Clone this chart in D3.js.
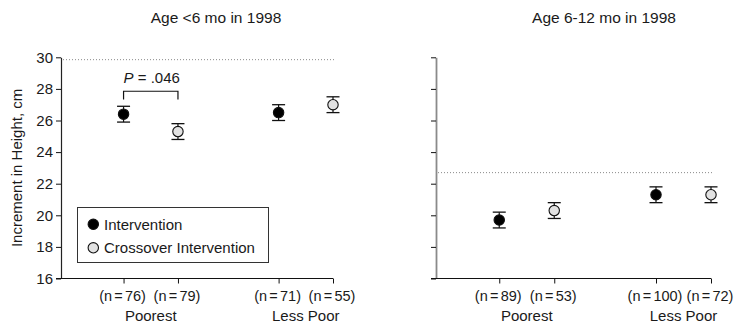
<!DOCTYPE html>
<html>
<head>
<meta charset="utf-8">
<script src="https://cdn.jsdelivr.net/npm/d3@7"></script>
<style>
  body { margin: 0; background: #fff; }
  text { font-family: "Liberation Sans", Arial, Helvetica, sans-serif; fill: #1a1a1a; }
</style>
</head>
<body>
<div id="chart"></div>
<script>
// data
var panelTitles = ["Age <6 mo in 1998", "Age 6-12 mo in 1998"];
var groups = ["Poorest", "Less Poor"];
var seriesNames = ["Intervention", "Crossover Intervention"];
var seriesFill = ["#000000", "#e2e2e2"];

// order: Poorest/Intervention, Poorest/Crossover, Less Poor/Intervention, Less Poor/Crossover
var meanYoung = [26.4, 25.3, 26.5, 27.0];
var errYoung = [0.5, 0.5, 0.5, 0.5];
var nYoung = [76, 79, 71, 55];

var meanOld = [19.7, 20.3, 21.3, 21.3];
var errOld = [0.5, 0.5, 0.5, 0.5];
var nOld = [89, 53, 100, 72];

var refLines = [29.85, 22.7];
var yTicks = [16, 18, 20, 22, 24, 26, 28, 30];
var pLabel = ".046";

var svgWidth = 734;
var svgHeight = 328;

var svg = d3.select("#chart")
  .append("svg")
  .attr("width", svgWidth)
  .attr("height", svgHeight);

var yScale = d3.scaleLinear()
  .domain([16, 30])
  .range([278.5, 57.3]);

// slot positions along the x axis (layout only)
var slots = [1.15, 2.15, 4, 5];

var panels = [
  { title: panelTitles[0], x0: 61, x1: 333, titleX: 216, mean: meanYoung, err: errYoung, n: nYoung, ref: refLines[0], axisColor: "#222", labels: true },
  { title: panelTitles[1], x0: 436, x1: 711, titleX: 604, mean: meanOld, err: errOld, n: nOld, ref: refLines[1], axisColor: "#8a8a8a", labels: false }
];

panels.forEach(function(p, pi) {
  var xScale = d3.scaleLinear().domain([0, 5]).range([p.x0, p.x1]);
  var g = svg.append("g");

  // title
  g.append("text")
    .attr("x", p.titleX)
    .attr("y", 23)
    .attr("text-anchor", "middle")
    .style("font-size", "15.5px")
    .text(p.title);

  // reference dotted line
  g.append("line")
    .attr("x1", p.x0 + 2)
    .attr("x2", p.x1 + 1)
    .attr("y1", yScale(p.ref))
    .attr("y2", yScale(p.ref))
    .attr("stroke", "#8a8a8a")
    .attr("stroke-width", 1)
    .attr("stroke-dasharray", "1,2");

  // y axis
  var leftAxis = d3.axisLeft(yScale)
    .tickValues(yTicks)
    .tickSize(5)
    .tickSizeOuter(0)
    .tickPadding(3);
  if (!p.labels) leftAxis.tickFormat("");

  var yg = g.append("g")
    .attr("transform", "translate(" + p.x0 + ",0)")
    .call(leftAxis);
  yg.select(".domain").attr("stroke", p.axisColor).attr("stroke-width", pi === 0 ? 1.2 : 1.8);
  yg.selectAll(".tick line").attr("stroke", "#111");
  yg.selectAll(".tick text").style("font-size", "15px").attr("fill", "#1a1a1a");

  // x axis with n labels
  var nLabels = p.n.map(function(v) { return "(n = " + v + ")"; });
  var bottomAxis = d3.axisBottom(xScale)
    .tickValues(slots)
    .tickSize(5)
    .tickSizeOuter(0)
    .tickPadding(7)
    .tickFormat(function(d, i) { return nLabels[i]; });

  var xg = g.append("g")
    .attr("transform", "translate(0," + yScale(16) + ")")
    .call(bottomAxis);
  xg.select(".domain").attr("stroke", "#111").attr("stroke-width", 1.2)
    .attr("d", "M" + (p.x0 - 5) + ",0H" + p.x1);
  xg.selectAll(".tick line").attr("stroke", "#111");
  xg.selectAll(".tick text")
    .style("font-size", "14.5px")
    .style("word-spacing", "-1.8px")
    .attr("dx", -1.5)
    .attr("fill", "#1a1a1a");

  // group labels
  groups.forEach(function(name, gi) {
    g.append("text")
      .attr("x", (xScale(slots[gi * 2]) + xScale(slots[gi * 2 + 1])) / 2)
      .attr("y", 321)
      .attr("text-anchor", "middle")
      .style("font-size", "15px")
      .text(name);
  });

  // error bars and points
  var pts = p.mean.map(function(m, i) {
    return { x: slots[i], mean: m, err: p.err[i], series: i % 2 };
  });

  var eg = g.selectAll(".err")
    .data(pts)
    .enter()
    .append("g")
    .attr("class", "err");

  eg.append("line")
    .attr("x1", d => xScale(d.x))
    .attr("x2", d => xScale(d.x))
    .attr("y1", d => yScale(d.mean + d.err))
    .attr("y2", d => yScale(d.mean - d.err))
    .attr("stroke", "#111")
    .attr("stroke-width", 1.2);

  [1, -1].forEach(function(sign) {
    eg.append("line")
      .attr("x1", d => xScale(d.x) - 6.5)
      .attr("x2", d => xScale(d.x) + 6.5)
      .attr("y1", d => yScale(d.mean + sign * d.err))
      .attr("y2", d => yScale(d.mean + sign * d.err))
      .attr("stroke", "#111")
      .attr("stroke-width", 1.3);
  });

  eg.append("circle")
    .attr("cx", d => xScale(d.x))
    .attr("cy", d => yScale(d.mean))
    .attr("r", 5.2)
    .attr("fill", d => seriesFill[d.series])
    .attr("stroke", "#111")
    .attr("stroke-width", 1.1);

  if (pi === 0) {
    // significance bracket
    var bx0 = xScale(slots[0]);
    var bx1 = xScale(slots[1]);
    var byTop = yScale(27.85);
    var byBot = yScale(27.33);
    g.append("path")
      .attr("d", "M" + bx0 + "," + byBot + "V" + byTop + "H" + bx1 + "V" + byBot)
      .attr("fill", "none")
      .attr("stroke", "#111")
      .attr("stroke-width", 1.2);

    var pt = g.append("text")
      .attr("x", (bx0 + bx1) / 2 + 1)
      .attr("y", 82.5)
      .attr("text-anchor", "middle")
      .style("font-size", "15px");
    pt.append("tspan").style("font-style", "italic").text("P");
    pt.append("tspan").text(" = " + pLabel);

    // legend
    var lg = g.append("g");
    lg.append("rect")
      .attr("x", 77.5)
      .attr("y", 207.5)
      .attr("width", 191)
      .attr("height", 55)
      .attr("fill", "#fff")
      .attr("stroke", "#333")
      .attr("stroke-width", 1);

    seriesNames.forEach(function(name, si) {
      var cy = 224.3 + si * 23.5;
      lg.append("circle")
        .attr("cx", 93.3)
        .attr("cy", cy)
        .attr("r", 5.2)
        .attr("fill", seriesFill[si])
        .attr("stroke", "#111")
        .attr("stroke-width", 1.1);
      lg.append("text")
        .attr("x", 104)
        .attr("y", cy + 5.2)
        .style("font-size", "15px")
        .text(name);
    });

    // y axis label
    g.append("text")
      .attr("transform", "rotate(-90)")
      .attr("x", -(yScale(16) + yScale(30)) / 2)
      .attr("y", 22)
      .attr("text-anchor", "middle")
      .style("font-size", "15px")
      .text("Increment in Height, cm");
  }
});
</script>
</body>
</html>
